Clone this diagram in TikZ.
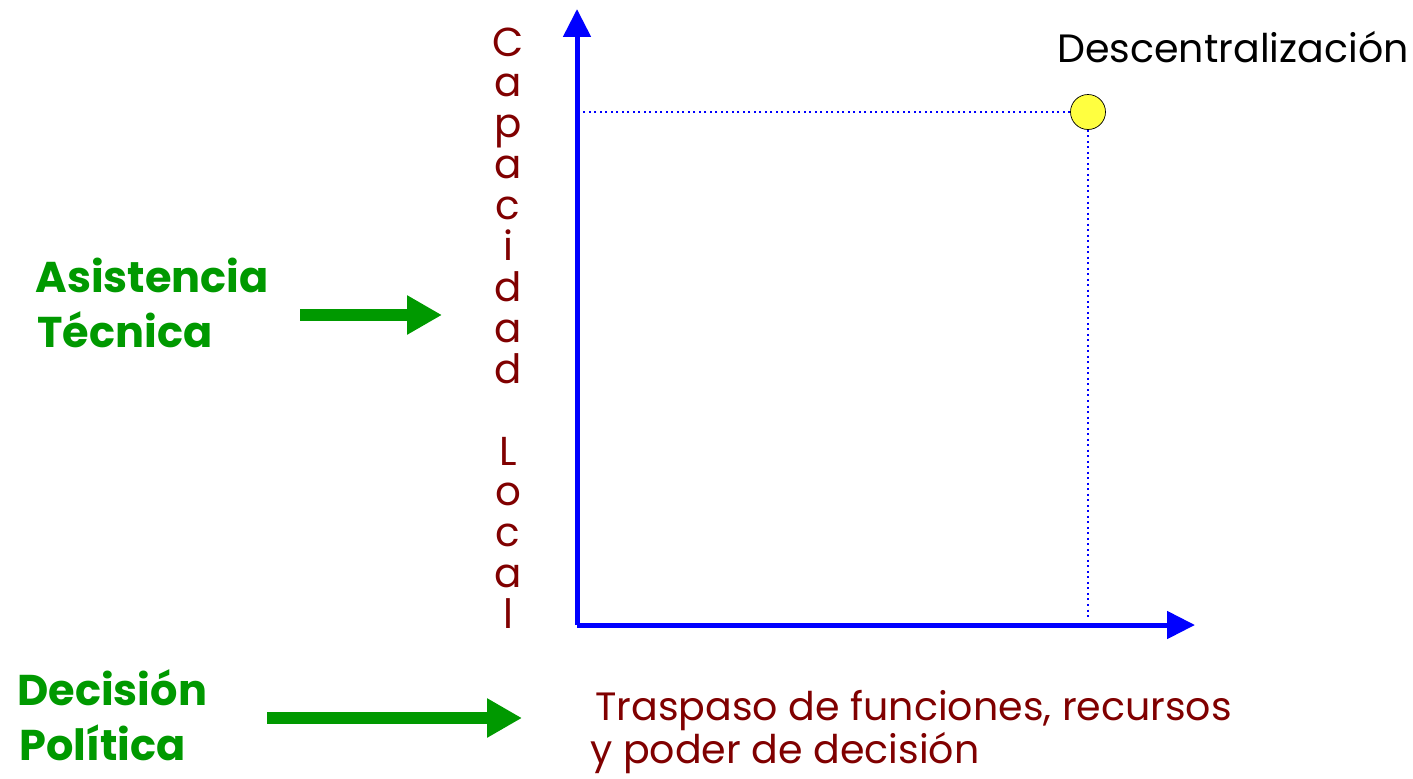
\documentclass[tikz,border=0pt]{standalone}
\usepackage{fontspec}
\setmainfont{Poppins}
\usetikzlibrary{arrows.meta}
\definecolor{darkRed}{RGB}{128,0,0}
\definecolor{leafGreen}{RGB}{0,153,0}
\definecolor{dotYellow}{RGB}{255,255,64}
\tikzset{
axisArrow/.style={blue, line width=0.1cm, -{Triangle[length=0.56cm,width=0.54cm]}},
dotGuide/.style={blue, line width=0.04cm, dotted},
greenArrow/.style={leafGreen, line width=0.24cm, -{Triangle[length=0.7cm,width=0.74cm]}},
greenText/.style={leafGreen, anchor=base west, inner sep=0pt, font=\fontsize{24.5}{28}\selectfont\bfseries},
redText/.style={darkRed, anchor=base west, inner sep=0pt, font=\fontsize{22.5}{26}\selectfont},
letterText/.style={darkRed, anchor=base, inner sep=0pt, font=\fontsize{23}{26}\selectfont}
}

\begin{document}
\begin{tikzpicture}[x=0.02cm,y=-0.02cm]
    \useasboundingbox (0,0) rectangle (1413,778);
    % axes
    \coordinate (O) at (577,625);
    \coordinate (yTip) at (577,9);
    \coordinate (xTip) at (1195,625);
    \draw[axisArrow] (O) -- (yTip);
    \draw[axisArrow] (O) -- (xTip);
    % point and guides
    \node[circle, draw=black, thin, fill=dotYellow, minimum size=0.7cm, inner sep=0pt] (desc) at (1088,112) {};
    \node[anchor=base west, inner sep=0pt, font=\fontsize{22.5}{26}\selectfont] (descText) at (1057,62) {Descentralización};
    \coordinate (yMark) at (582,112);
    \coordinate (xMark) at (1088,620);
    \draw[dotGuide] (desc.west) -- (yMark);
    \draw[dotGuide] (desc.south) -- (xMark);
    % vertical label
    \foreach \l [count=\i] in {C,a,p,a,c,i,d,a,d,{},L,o,c,a,l}
        \node[letterText] (cap\i) at (508,{56+(\i-1)*40.9}) {\l};
    % left labels
    \node[greenText] (asis) at (35,292) {Asistencia};
    \node[greenText] (tecn) at (37,347) {Técnica};
    \coordinate (asisStart) at (300,315);
    \coordinate (asisEnd) at (442,315);
    \draw[greenArrow] (asisStart) -- (asisEnd);
    \node[greenText] (deci) at (17,705) {Decisión};
    \node[greenText] (poli) at (19,760) {Política};
    \coordinate (deciStart) at (267,718);
    \coordinate (deciEnd) at (522,718);
    \draw[greenArrow] (deciStart) -- (deciEnd);
    % bottom label
    \node[redText] (trasp) at (595,720) {Traspaso de funciones, recursos};
    \node[redText] (poder) at (590,763) {y poder de decisión};
\end{tikzpicture}
\end{document}
